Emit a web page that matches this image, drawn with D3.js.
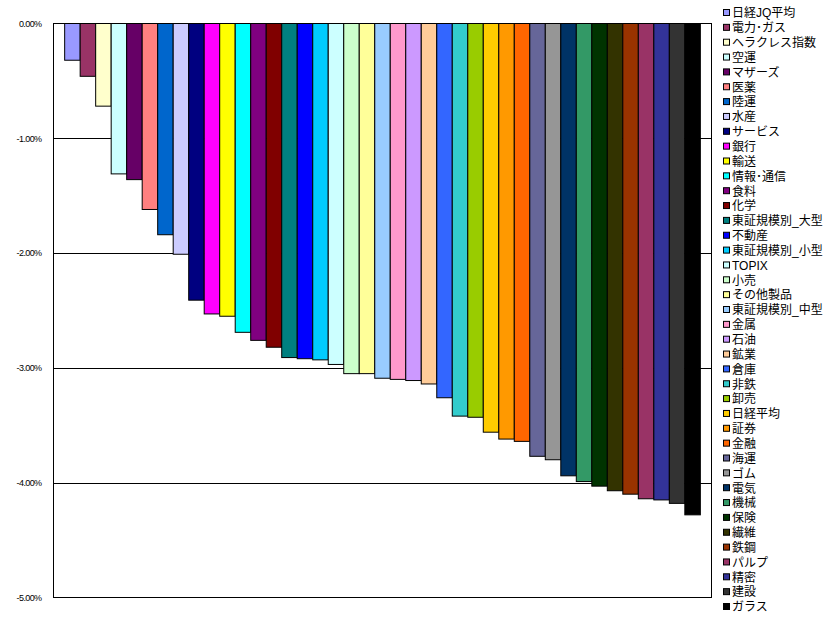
<!DOCTYPE html>
<html lang="ja">
<head>
<meta charset="utf-8">
<script src="https://cdn.jsdelivr.net/npm/d3@7"></script>
<style>
  html, body { margin: 0; padding: 0; background: #fff; }
  svg { display: block; }
</style>
</head>
<body>
<svg id="chart" width="835" height="624" lang="ja"></svg>
<script>
const names = ["日経JQ平均","電力･ガス","ヘラクレス指数","空運","マザーズ","医薬","陸運","水産","サービス","銀行","輸送","情報･通信","食料","化学","東証規模別_大型","不動産","東証規模別_小型","TOPIX","小売","その他製品","東証規模別_中型","金属","石油","鉱業","倉庫","非鉄","卸売","日経平均","証券","金融","海運","ゴム","電気","機械","保険","繊維","鉄鋼","パルプ","精密","建設","ガラス"];
const values = [-0.32,-0.46,-0.72,-1.31,-1.36,-1.62,-1.84,-2.01,-2.41,-2.53,-2.55,-2.69,-2.76,-2.82,-2.91,-2.92,-2.93,-2.97,-3.05,-3.05,-3.09,-3.10,-3.11,-3.14,-3.26,-3.42,-3.43,-3.56,-3.62,-3.64,-3.77,-3.80,-3.94,-3.99,-4.03,-4.07,-4.10,-4.14,-4.15,-4.18,-4.28];
const colors = ["#9999FF","#993366","#FFFFCC","#CCFFFF","#660066","#FF8080","#0066CC","#CCCCFF","#000080","#FF00FF","#FFFF00","#00FFFF","#800080","#800000","#008080","#0000FF","#00CCFF","#CCFFFF","#CCFFCC","#FFFF99","#99CCFF","#FF99CC","#CC99FF","#FFCC99","#3366FF","#33CCCC","#99CC00","#FFCC00","#FF9900","#FF6600","#666699","#969696","#003366","#339966","#003300","#333300","#993300","#993366","#333399","#333333","#000000"];
const yTicks = [0,-1,-2,-3,-4,-5];
const yTickLabels = ["0.00%","-1.00%","-2.00%","-3.00%","-4.00%","-5.00%"];

const svg = d3.select("#chart");
const plot = {left: 53.5, right: 711.5, top: 23.5, bottom: 597.5};

const y = d3.scaleLinear().domain([-5, 0]).range([plot.bottom, plot.top]);
const x = d3.scaleBand().domain(names).range([plot.left, plot.right]).paddingOuter(0.72).paddingInner(0);

// gridlines
svg.append("g").selectAll("line").data(yTicks.filter(d => d !== 0 && d !== -5)).join("line")
  .attr("x1", plot.left).attr("x2", plot.right)
  .attr("y1", d => Math.round(y(d)) + 0.5).attr("y2", d => Math.round(y(d)) + 0.5)
  .attr("stroke", "#000").attr("stroke-width", 1);

// bars
svg.append("g").selectAll("rect").data(values).join("rect")
  .attr("x", (d, i) => x(names[i]))
  .attr("y", y(0))
  .attr("width", x.bandwidth())
  .attr("height", d => y(d) - y(0))
  .attr("fill", (d, i) => colors[i])
  .attr("stroke", "#000").attr("stroke-width", 1);

// plot border
svg.append("rect")
  .attr("x", plot.left).attr("y", plot.top)
  .attr("width", plot.right - plot.left).attr("height", plot.bottom - plot.top)
  .attr("fill", "none").attr("stroke", "#000").attr("stroke-width", 1);

// y axis labels
const yAxis = d3.axisLeft(y).tickValues(yTicks).tickSize(0).tickPadding(12)
  .tickFormat((d, i) => yTickLabels[i]);
const ga = svg.append("g").attr("transform", `translate(${plot.left},0)`).call(yAxis);
ga.select(".domain").remove();
ga.selectAll("text").attr("font-family", "Liberation Sans, Arial, sans-serif")
  .attr("font-size", 9).attr("fill", "#000").attr("letter-spacing", "-0.6");

// legend
const lg = svg.append("g").attr("transform", "translate(723,13)");
const item = lg.selectAll("g").data(names).join("g")
  .attr("transform", (d, i) => `translate(0,${i * 14.85})`);
item.append("rect").attr("x", 0.5).attr("y", -3.5).attr("width", 6).attr("height", 6)
  .attr("fill", (d, i) => colors[i]).attr("stroke", "#000").attr("stroke-width", 1);
item.append("text").attr("x", 9).attr("y", 0).attr("dy", "0.36em")
  .attr("font-family", "'Liberation Sans', 'Noto Sans CJK JP', sans-serif").attr("font-size", 12)
  .attr("fill", "#000").text(d => d);
</script>
</body>
</html>
